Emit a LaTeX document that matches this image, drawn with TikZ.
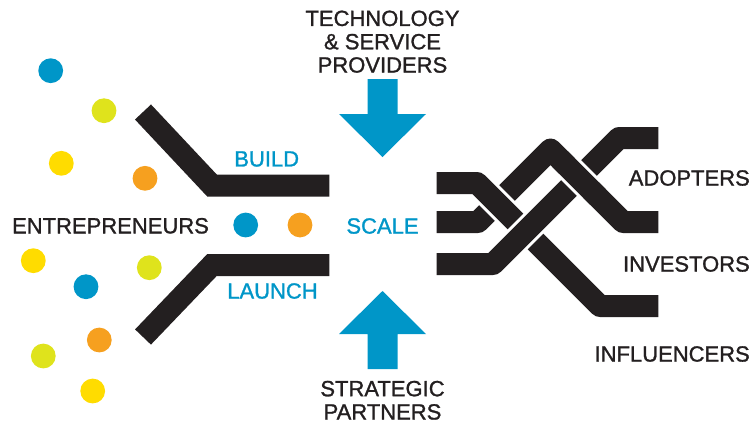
\documentclass[tikz,border=0pt]{standalone}
\usepackage{fontspec}
\setmainfont{Liberation Sans}[UprightFeatures={FakeBold=1.2}]
\usepackage{tikz}

\definecolor{ink}{HTML}{231F20}
\definecolor{sblue}{HTML}{0096C8}
\definecolor{slime}{HTML}{DFE31C}
\definecolor{syellow}{HTML}{FFDC00}
\definecolor{sorange}{HTML}{F6A01F}

\begin{document}
\begin{tikzpicture}[x=1pt,y=-1pt,
		lbl/.style={inner sep=0pt,text=ink,font=\fontsize{22}{23.3}\selectfont},
		blbl/.style={lbl,text=sblue},
		dot/.style={circle,inner sep=0pt,minimum size=24.8pt},
		arm/.style={ink,line width=22pt,line join=miter},
		strand/.style={white,line width=3pt,double=ink,double distance=22pt,line join=round}]
				\useasboundingbox (0,0) rectangle (756,424);
				\node[dot,fill=sblue] (d1) at (50.7,70.7) {};
				\node[dot,fill=slime] (d2) at (104,110.7) {};
				\node[dot,fill=syellow] (d3) at (61.3,163.3) {};
				\node[dot,fill=sorange] (d4) at (145,178.3) {};
				\node[dot,fill=sblue] (d5) at (245.7,225) {};
				\node[dot,fill=sorange] (d6) at (300,225) {};
				\node[dot,fill=syellow] (d7) at (33.3,260.7) {};
				\node[dot,fill=slime] (d8) at (149.3,267.7) {};
				\node[dot,fill=sblue] (d9) at (86,286.7) {};
				\node[dot,fill=sorange] (d10) at (99.3,340) {};
				\node[dot,fill=slime] (d11) at (43.3,356) {};
				\node[dot,fill=syellow] (d12) at (92.7,391) {};
				\draw[arm] (143,112) -- (212,185.5) -- (329.3,185.5);
				\draw[arm] (143,337) -- (212,265) -- (329.3,265);
				\node[lbl] (entre) at (110.5,225.8) {ENTREPRENEURS};
				\node[blbl] (build) at (266.7,159) {BUILD};
				\node[blbl] (launch) at (272.5,291) {LAUNCH};
				\node[blbl] (scale) at (382.5,226) {SCALE};
				\node[lbl,align=center] (tech) at (382.5,41.7) {TECHNOLOGY\\\& SERVICE\\PROVIDERS};
				\node[lbl,align=center] (strat) at (382.5,400.3) {STRATEGIC\\PARTNERS};
				\coordinate (toptip) at (382.5,157);
				\coordinate (bottip) at (382.5,291);
				\fill[sblue] (toptip) -- ++(43.5,-43) -- ++(-28.5,0) -- ++(0,-35) -- ++(-30,0) -- ++(0,35) -- ++(-28.5,0) -- cycle;
				\fill[sblue] (bottip) -- ++(43.5,43) -- ++(-28.5,0) -- ++(0,35) -- ++(-30,0) -- ++(0,-35) -- ++(-28.5,0) -- cycle;
				\draw[strand] (436.7,222) -- (478,222) -- (550.5,149.5) -- (623,222) -- (658.3,222);
				\draw[strand] (436.7,183) -- (477,183) -- (600,306) -- (658.3,306);
				\draw[strand] (436.7,264) -- (493,264) -- (619,138) -- (658.3,138);
				\draw[white,line width=28pt] (567,166) -- (591,190);
				\draw[ink,line width=22pt] (560,159) -- (598,197);
				\node[lbl,anchor=east] (adopt) at (750,178) {ADOPTERS};
				\node[lbl,anchor=east] (invest) at (750,264) {INVESTORS};
				\node[lbl,anchor=east] (influ) at (750,354) {INFLUENCERS};
			\end{tikzpicture}
\end{document}
